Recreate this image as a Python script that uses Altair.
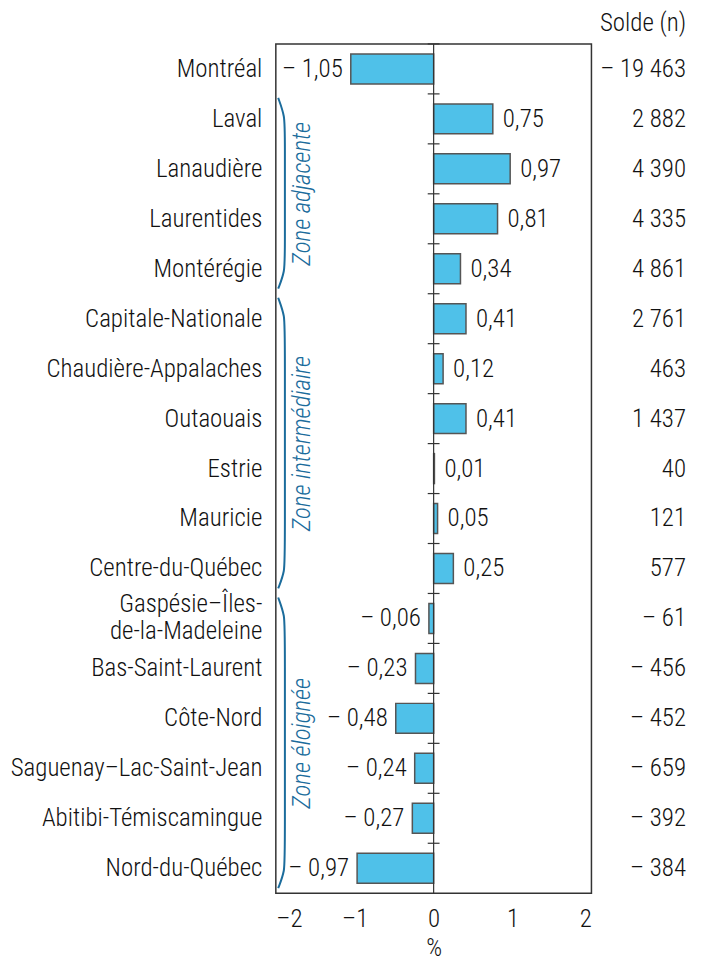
import altair as alt
import pandas as pd

regions = ["Montréal", "Laval", "Lanaudière", "Laurentides", "Montérégie",
           "Capitale-Nationale", "Chaudière-Appalaches", "Outaouais", "Estrie",
           "Mauricie", "Centre-du-Québec", "Gaspésie–Îles-\nde-la-Madeleine",
           "Bas-Saint-Laurent", "Côte-Nord", "Saguenay–Lac-Saint-Jean",
           "Abitibi-Témiscamingue", "Nord-du-Québec"]
pct = [-1.05, 0.75, 0.97, 0.81, 0.34, 0.41, 0.12, 0.41, 0.01, 0.05, 0.25,
       -0.06, -0.23, -0.48, -0.24, -0.27, -0.97]
solde = [-19463, 2882, 4390, 4335, 4861, 2761, 463, 1437, 40, 121, 577,
         -61, -456, -452, -659, -392, -384]
zone_names = ["Zone adjacente", "Zone intermédiaire", "Zone éloignée"]
zone_start = [1, 5, 11]
zone_end = [5, 11, 17]

FONT = "Liberation Sans Narrow, Roboto Condensed, Roboto, sans-serif"
FS = 25
FW = 300
W, H = 317, 853
TXT = "#111111"
TEAL = "#1b6c9c"
BAR = "#4fc1e9"


def fmt_pct(v):
    s = f"{abs(v):.2f}".replace(".", ",")
    return ("– " + s) if v < 0 else s


def fmt_n(n):
    s = f"{abs(n):,}".replace(",", " ")
    return ("– " + s) if n < 0 else s


df = pd.DataFrame({
    "region": regions,
    "pct": pct,
    "label": [fmt_pct(v) for v in pct],
    "solde": [fmt_n(n) for n in solde],
})

ysc = alt.Scale(domain=regions, paddingInner=0.4, paddingOuter=0.2)
yband = alt.Y("region:N", sort=regions, scale=ysc, title=None,
              axis=alt.Axis(labelFont=FONT, labelFontSize=FS, labelColor=TXT,
                            labelFontWeight=FW,
                            labelPadding=14, ticks=False, domain=False,
                            labelExpr="split(datum.label, '\\n')",
                            labelOffset={"condition": {"test": "indexof(datum.label, '\\n') >= 0", "value": -14}, "value": 0},
                            labelLineHeight=27, labelLimit=400))
xsc = alt.Scale(domain=[-2, 2], nice=False)
xenc = alt.X("pct:Q", scale=xsc, title="%",
             axis=alt.Axis(values=[-2, -1, 0, 1, 2], grid=False,
                           labelExpr="datum.value < 0 ? '–' + abs(datum.value) : '' + datum.value",
                           ticks=False, domain=False, labelFont=FONT,
                           labelFontSize=FS, labelColor=TXT, labelPadding=13,
                           labelFontWeight=FW,
                           titleFont=FONT, titleFontSize=FS, titleColor=TXT,
                           titleFontWeight=FW, titlePadding=5))

base = alt.Chart(df)

bars = base.mark_bar(color=BAR, stroke="#555555", strokeWidth=1.5).encode(
    x=xenc, x2=alt.datum(0), y=yband)

pos_lbl = base.transform_filter("datum.pct >= 0").mark_text(
    align="left", baseline="middle", dx=10, font=FONT, fontSize=FS, fontWeight=FW, color=TXT
).encode(x=alt.X("pct:Q", scale=xsc), y=alt.Y("region:N", sort=regions, scale=ysc), text="label:N")

neg_lbl = base.transform_filter("datum.pct < 0").mark_text(
    align="right", baseline="middle", dx=-8, font=FONT, fontSize=FS, fontWeight=FW, color=TXT
).encode(x=alt.X("pct:Q", scale=xsc), y=alt.Y("region:N", sort=regions, scale=ysc), text="label:N")

solde_txt = base.mark_text(
    align="right", baseline="middle", font=FONT, fontSize=FS, fontWeight=FW, color=TXT
).encode(x=alt.value(W + 95), y=alt.Y("region:N", sort=regions, scale=ysc), text="solde:N")

header = alt.Chart(pd.DataFrame({"t": ["Solde (n)"]})).mark_text(
    align="right", baseline="middle", font=FONT, fontSize=FS, fontWeight=FW, color=TXT
).encode(x=alt.value(W + 95), y=alt.value(-21), text="t:N")

zero = alt.Chart(pd.DataFrame({"z": [0]})).mark_rule(color="#333333", strokeWidth=1.2).encode(
    x=alt.X("z:Q", scale=xsc), y=alt.value(0), y2=alt.value(H))

# quantitative row-index layer for brackets, zone labels and zero-line ticks
qy = alt.Scale(domain=[0, len(regions)], reverse=True, nice=False, zero=False)

tick_df = pd.DataFrame({"k": list(range(0, len(regions)))})
ticks = alt.Chart(tick_df).mark_rule(color="#333333", strokeWidth=1.2).encode(
    x=alt.datum(-0.075, scale=xsc), x2=alt.datum(0.075),
    y=alt.Y("k:Q", scale=qy, axis=None))

br_rows = []
for zi, (s, e) in enumerate(zip(zone_start, zone_end)):
    pts = [(-1.97, s + 0.08), (-1.885, s + 0.45), (-1.885, s + 0.8),
           (-1.885, e - 0.8), (-1.885, e - 0.45), (-1.97, e - 0.1)]
    for j, (xx, yy) in enumerate(pts):
        br_rows.append({"zone": zone_names[zi], "bx": xx, "by": yy, "o": j})
br_df = pd.DataFrame(br_rows)
brackets = alt.Chart(br_df).mark_line(color=TEAL, strokeWidth=2, interpolate="basis").encode(
    x=alt.X("bx:Q", scale=xsc), y=alt.Y("by:Q", scale=qy, axis=None),
    detail="zone:N", order="o:Q")

zl_df = pd.DataFrame({"zone": zone_names,
                      "mid": [(s + e) / 2 for s, e in zip(zone_start, zone_end)]})
zone_lbl = alt.Chart(zl_df).mark_text(
    angle=270, align="center", baseline="middle", font=FONT, fontSize=FS,
    fontWeight=FW, fontStyle="italic", color=TEAL
).encode(x=alt.datum(-1.67, scale=xsc), y=alt.Y("mid:Q", scale=qy, axis=None), text="zone:N")

main = alt.layer(bars, pos_lbl, neg_lbl, solde_txt, header, zero)
extra = alt.layer(ticks, brackets, zone_lbl)

chart = alt.layer(main, extra).resolve_scale(y="independent").properties(
    width=W, height=H,
    padding={"left": 269, "top": 34, "right": 102, "bottom": 69},
    autosize=alt.AutoSizeParams(type="none"),
).configure_view(stroke="#333333", strokeWidth=1.5).configure_axis(grid=False)

chart.save("out.html", embed_options={"renderer": "svg", "actions": False})
